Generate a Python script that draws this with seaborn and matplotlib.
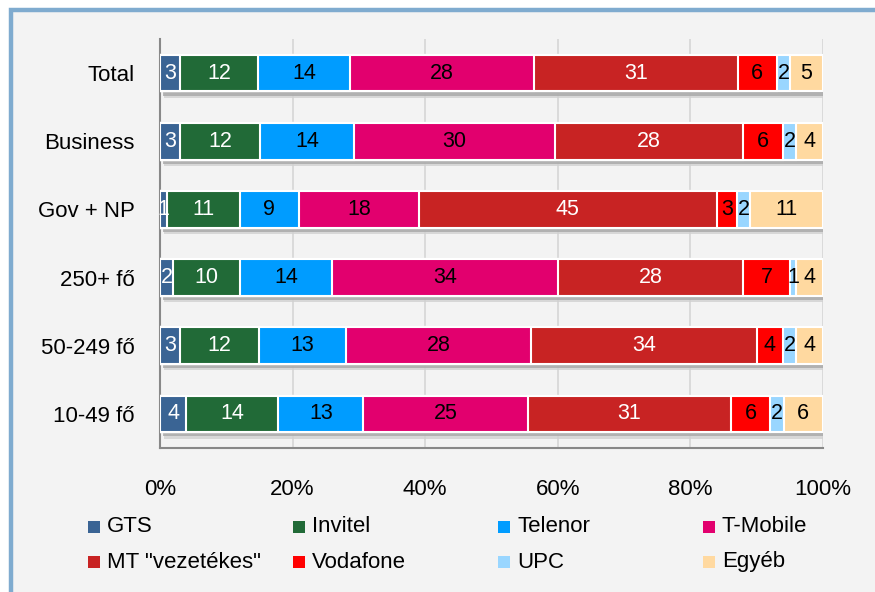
import numpy as np
import pandas as pd
import matplotlib
matplotlib.use("Agg")
import matplotlib.pyplot as plt
import matplotlib.patheffects as pe
from matplotlib.patches import Rectangle
import seaborn as sns

# --- data ---
categories = ["Total", "Business", "Gov + NP", "250+ fő", "50-249 fő", "10-49 fő"]
gts = [3, 3, 1, 2, 3, 4]
invitel = [12, 12, 11, 10, 12, 14]
telenor = [14, 14, 9, 14, 13, 13]
tmobile = [28, 30, 18, 34, 28, 25]
mt_vezetekes = [31, 28, 45, 28, 34, 31]
vodafone = [6, 6, 3, 7, 4, 6]
upc = [2, 2, 2, 1, 2, 2]
egyeb = [5, 4, 11, 4, 4, 6]

series_names = ["GTS", "Invitel", "Telenor", "T-Mobile", 'MT "vezetékes"', "Vodafone", "UPC", "Egyéb"]
series_values = [gts, invitel, telenor, tmobile, mt_vezetekes, vodafone, upc, egyeb]
colors = ["#3a6494", "#216a37", "#009cff", "#e2006e", "#c82323", "#ff0000", "#99d6ff", "#ffd9a0"]
label_colors = ["white", "white", "black", "black", "white", "black", "black", "black"]

# --- style ---
bg = "#f3f3f3"
sns.set_style("white", {"axes.facecolor": bg})
plt.rcParams["font.family"] = ["Liberation Sans", "DejaVu Sans"]
plt.rcParams["text.color"] = "black"
plt.rcParams["xtick.color"] = "black"
plt.rcParams["ytick.color"] = "black"

df = pd.DataFrame(dict(zip(series_names, series_values)), index=categories)
pct = df.div(df.sum(axis=1), axis=0) * 100
cum = pct.cumsum(axis=1)

fig = plt.figure(figsize=(8.75, 5.92), dpi=100, facecolor="white")
frame = Rectangle((10.5 / 875, -0.1), 1.2, 1.1 - 9.5 / 592, transform=fig.transFigure,
                  facecolor=bg, edgecolor="#7fabcf", linewidth=3.2, zorder=-10)
fig.add_artist(frame)
ax = fig.add_axes([160 / 875, 1 - 448 / 592, 663 / 875, 409 / 592])
ax.set_facecolor(bg)

# stacked bars: draw cumulative totals, largest first
for i in range(len(series_names) - 1, -1, -1):
    sns.barplot(x=cum.iloc[:, i].values, y=categories, orient="h", color=colors[i],
                width=0.54, edgecolor="white", linewidth=1.5, saturation=1, ax=ax, zorder=3)
    if i == len(series_names) - 1:
        # soft drop shadow under the whole bar
        for p in ax.patches:
            p.set_path_effects([pe.SimplePatchShadow(offset=(3, -4.5), shadow_rgbFace="#d0d0d0", alpha=0.8),
                                pe.SimplePatchShadow(offset=(2, -3), shadow_rgbFace="#a8a8a8", alpha=0.8),
                                pe.Normal()])

# segment labels
for i, name in enumerate(series_names):
    for j, cat in enumerate(categories):
        left = cum.iloc[j, i] - pct.iloc[j, i]
        ax.text(left + pct.iloc[j, i] / 2, j, str(df.loc[cat, name]), ha="center", va="center",
                fontsize=15.5, color=label_colors[i], zorder=5)

# axes
ax.set_xlim(0, 100)
ax.set_ylim(len(categories) - 0.5, -0.5)
ax.set_xticks(np.arange(0, 101, 20))
ax.set_xticklabels([f"{v}%" for v in range(0, 101, 20)], fontsize=16)
ax.set_yticks(range(len(categories)))
ax.set_yticklabels(categories, fontsize=16)
ax.set_yticks(np.arange(-0.5, len(categories), 1), minor=True)
ax.tick_params(axis="y", which="major", length=0, pad=18)
ax.tick_params(axis="y", which="minor", length=6, width=1.5, color="#888888", direction="out")
ax.tick_params(axis="x", length=6, width=1.5, color="#888888", labelcolor="black", pad=16, direction="out")
ax.set_xlabel("")
ax.set_ylabel("")
ax.grid(axis="x", color="#d6d6d6", linewidth=1.2, zorder=0)
ax.set_axisbelow(True)
sns.despine(ax=ax, top=True, right=True)
for s in ["left", "bottom"]:
    ax.spines[s].set_color("#888888")
    ax.spines[s].set_linewidth(1.5)

# legend, 2 rows x 4 columns
for k, name in enumerate(series_names):
    col, row = k % 4, k // 4
    x0 = (88 + col * 205) / 875
    yc = 1 - (527 + row * 35) / 592
    fig.add_artist(Rectangle((x0, yc - 6 / 592), 12 / 875, 12 / 592, transform=fig.transFigure,
                             facecolor=colors[k], edgecolor="none"))
    fig.text(x0 + 19 / 875, yc, name, fontsize=16, va="center", ha="left")

fig.savefig("out.png", dpi=100, facecolor="white")
